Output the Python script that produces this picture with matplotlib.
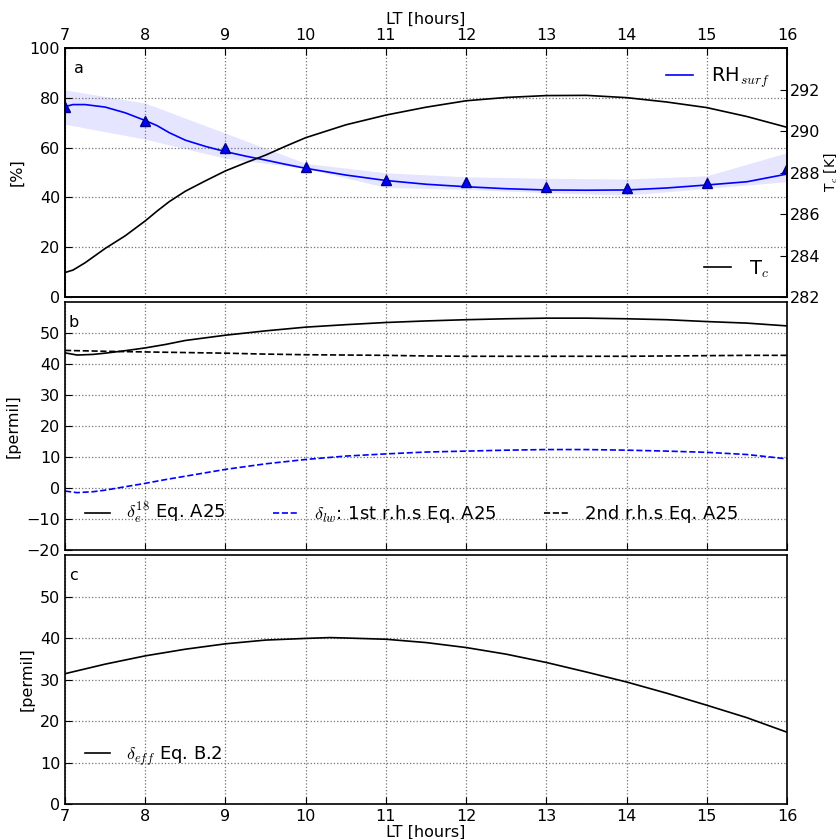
import numpy as np
import matplotlib.pyplot as plt
import matplotlib

matplotlib.rcParams['mathtext.fontset'] = 'cm'
matplotlib.rcParams['font.family'] = 'DejaVu Sans'
matplotlib.rcParams['font.size'] = 11.5
matplotlib.rcParams['xtick.direction'] = 'in'
matplotlib.rcParams['ytick.direction'] = 'in'
matplotlib.rcParams['xtick.major.size'] = 5
matplotlib.rcParams['ytick.major.size'] = 5
matplotlib.rcParams['xtick.labelsize'] = 11.5
matplotlib.rcParams['ytick.labelsize'] = 11.5
matplotlib.rcParams['grid.linestyle'] = ':'
matplotlib.rcParams['grid.color'] = '0.45'
matplotlib.rcParams['grid.linewidth'] = 0.9
matplotlib.rcParams['axes.linewidth'] = 1.2
matplotlib.rcParams['legend.handlelength'] = 1.4
matplotlib.rcParams['legend.handletextpad'] = 0.9

# observations (hourly)
lt_obs = [7, 8, 9, 10, 11, 12, 13, 14, 15, 16]
rh_obs = [76.2, 70.8, 60.0, 52.3, 47.0, 46.2, 44.3, 43.9, 45.8, 51.7]
rh_hi = [83.2, 77.9, 65.8, 53.7, 49.9, 48.3, 47.7, 47.4, 48.7, 58.0]
rh_lo = [69.4, 63.4, 55.7, 51.7, 44.0, 43.2, 41.9, 40.9, 43.6, 46.3]

# model curves
lt = [7, 7.1, 7.25, 7.5, 7.75, 8, 8.15, 8.3, 8.5, 8.75, 9, 9.25, 9.5, 9.75, 10, 10.5, 11, 11.5, 12, 12.5,
      13, 13.5, 14, 14.5, 15, 15.5, 16]
rh_mod = [76.5, 77.3, 77.3, 76.3, 74.0, 70.9, 68.8, 66.0, 63.0, 60.5, 58.4, 56.6, 55.0, 53.3, 51.7, 49.0,
          46.8, 45.3, 44.3, 43.5, 43.0, 42.9, 43.0, 43.8, 45.0, 46.3, 49.4]
t_c = [283.18, 283.3, 283.65, 284.34, 284.95, 285.67, 286.15, 286.6, 287.1, 287.6, 288.08, 288.47, 288.84,
       289.27, 289.68, 290.3, 290.77, 291.15, 291.46, 291.62, 291.71, 291.72, 291.61, 291.4, 291.13, 290.7, 290.18]

lt_b = [7, 7.15, 7.35, 7.5, 7.75, 8, 8.25, 8.5, 9, 9.5, 10, 10.5, 11, 11.5, 12, 12.5, 13, 13.5, 14, 14.5,
        15, 15.5, 16]
d_e = [43.6, 42.9, 43.1, 43.5, 44.3, 45.2, 46.3, 47.6, 49.3, 50.7, 51.9, 52.7, 53.4, 53.9, 54.3, 54.6, 54.8,
       54.8, 54.6, 54.3, 53.7, 53.2, 52.3]
d_lw = [-1.0, -1.5, -1.2, -0.7, 0.4, 1.5, 2.7, 3.8, 6.0, 7.8, 9.2, 10.3, 11.0, 11.6, 11.9, 12.2, 12.4, 12.4,
        12.2, 11.9, 11.5, 10.8, 9.4]
d_2nd = [44.4, 44.3, 44.2, 44.1, 44.0, 43.9, 43.8, 43.7, 43.5, 43.2, 43.0, 42.9, 42.8, 42.6, 42.5, 42.5, 42.5,
         42.5, 42.5, 42.6, 42.7, 42.8, 42.8]

lt_c = [7, 7.5, 8, 8.5, 9, 9.5, 10, 10.3, 10.5, 11, 11.5, 12, 12.5, 13, 13.5, 14, 14.5, 15, 15.5, 16]
d_eff = [31.4, 33.7, 35.7, 37.3, 38.6, 39.5, 39.9, 40.1, 40.0, 39.7, 38.9, 37.7, 36.1, 34.1, 31.8, 29.4, 26.7,
         23.8, 20.8, 17.3]

hours = list(range(7, 17))

fig = plt.figure(figsize=(8.37, 8.39), dpi=100)
ax1 = fig.add_axes([0.0777, 0.646, 0.8626, 0.2967])
ax2 = fig.add_axes([0.0777, 0.3445, 0.8626, 0.2955])
ax3 = fig.add_axes([0.0777, 0.0417, 0.8626, 0.2968])

# panel a
ax1.fill_between(lt_obs, rh_lo, rh_hi, color='b', alpha=0.1, linewidth=0)
l1, = ax1.plot(lt, rh_mod, color='b', lw=1.2, label='RH$_{surf}$')
ax1.plot(lt_obs, rh_obs, '^', color='b', mec='navy', ms=7)
ax1.set_ylim(0, 100)
ax1.set_xlim(7, 16)
ax1.set_ylabel('[%]')
ax1.xaxis.tick_top()
ax1.xaxis.set_label_position('top')
ax1.set_xlabel('LT [hours]', labelpad=3)
ax1.set_xticks(hours)
ax1.grid(True)
ax1.text(0.012, 0.9, 'a', transform=ax1.transAxes, fontsize=11.5)
ax1.legend(handles=[l1], loc='upper right', frameon=False, fontsize=14)

ax1b = ax1.twinx()
l2, = ax1b.plot(lt, t_c, color='k', lw=1.2, label='T$_c$')
ax1b.set_ylim(282, 294)
ax1b.set_yticks([282, 284, 286, 288, 290, 292])
ax1b.tick_params(axis='y', pad=2)
ax1b.set_ylabel('T$_c$ [K]', labelpad=1, fontsize=10)
ax1b.set_xlim(7, 16)
ax1b.legend(handles=[l2], loc='lower right', frameon=False, fontsize=14)

# panel b
ax2.plot(lt_b, d_e, 'k-', lw=1.2, label=r'$\delta_e^{18}$ Eq. A25')
ax2.plot(lt_b, d_lw, 'b--', lw=1.2, label=r'$\delta_{lw}$: 1st r.h.s Eq. A25')
ax2.plot(lt_b, d_2nd, 'k--', lw=1.2, label='2nd r.h.s Eq. A25')
ax2.set_xlim(7, 16)
ax2.set_ylim(-20, 60)
ax2.set_yticks(range(-20, 60, 10))
ax2.set_xticks(hours)
ax2.set_xticklabels([])
ax2.set_ylabel('[permil]')
ax2.grid(True)
ax2.text(0.005, 0.9, 'b', transform=ax2.transAxes, fontsize=11.5)
ax2.legend(loc='lower left', ncol=3, frameon=False, fontsize=13, columnspacing=2.6,
           bbox_to_anchor=(0.005, 0.03))

# panel c
ax3.plot(lt_c, d_eff, 'k-', lw=1.2, label=r'$\delta_{eff}$ Eq. B.2')
ax3.set_xlim(7, 16)
ax3.set_ylim(0, 60)
ax3.set_yticks(range(0, 60, 10))
ax3.set_xticks(hours)
ax3.set_xlabel('LT [hours]', labelpad=1)
ax3.set_ylabel('[permil]')
ax3.grid(True)
ax3.text(0.005, 0.9, 'c', transform=ax3.transAxes, fontsize=11.5)
ax3.legend(loc='lower left', frameon=False, fontsize=13, bbox_to_anchor=(0.005, 0.08))

plt.savefig('out.png', dpi=100)
